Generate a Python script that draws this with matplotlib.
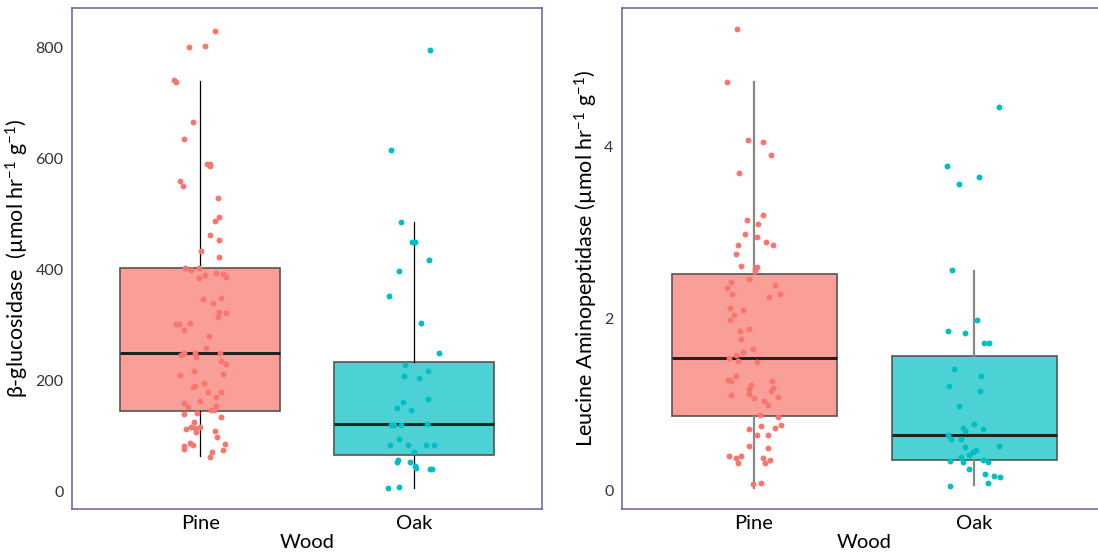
import matplotlib.pyplot as plt

plt.rcParams['font.family'] = ['Lato', 'DejaVu Sans']
plt.rcParams['mathtext.fontset'] = 'custom'
plt.rcParams['mathtext.rm'] = 'Lato'
plt.rcParams['mathtext.it'] = 'Lato'

woods = ['Pine', 'Oak']
pine_col = '#F8766D'
oak_col = '#00BFC4'

# beta-glucosidase, umol hr-1 g-1
bg_pine = [831.4, 802.4, 804.2, 742.1, 737.9, 666.1, 635.3, 590.0, 591.3, 586.4,
           559.3, 551.4, 529.7, 495.3, 487.5, 462.7, 453.1, 434.4, 424.1, 404.2,
           399.4, 403.0, 386.1, 390.3, 395.2, 392.2, 387.3, 348.1, 339.7, 349.9,
           324.6, 322.8, 315.5, 302.3, 302.3, 303.5, 292.0, 281.1, 259.4, 247.4,
           249.8, 249.8, 243.7, 249.8, 236.5, 231.1, 210.0, 217.2, 213.0, 196.1,
           188.2, 190.0, 179.2, 179.2, 171.3, 159.9, 162.9, 152.6, 146.6, 146.6,
           153.8, 140.6, 142.4, 134.5, 126.7, 113.4, 117.6, 114.6, 117.0, 108.6,
           109.8, 98.3, 88.7, 84.5, 82.7, 76.6, 85.7, 75.4, 71.2, 63.3]
bg_pine_jit = [0.071, -0.052, 0.023, -0.123, -0.113, -0.032, -0.076, 0.031, 0.045, 0.048,
               -0.096, -0.080, 0.085, 0.090, 0.071, 0.048, 0.090, 0.005, 0.090, -0.071,
               -0.045, -0.006, -0.006, 0.023, 0.076, 0.108, 0.120, 0.014, 0.062, 0.099,
               0.090, 0.123, 0.085, -0.113, -0.099, -0.048, -0.076, 0.042, 0.028, -0.091,
               -0.076, -0.022, -0.019, 0.094, 0.099, 0.123, -0.094, -0.028, 0.108, 0.019,
               -0.035, -0.022, 0.037, 0.099, 0.076, -0.076, 0.0, -0.057, 0.049, 0.065,
               0.076, -0.076, -0.014, 0.099, -0.028, -0.065, -0.042, -0.022, -0.002, -0.019,
               0.069, 0.080, -0.046, -0.032, -0.076, -0.076, 0.117, 0.108, 0.056, 0.046]
bg_oak = [796.4, 616.6, 485.7, 449.5, 449.5, 416.9, 397.6, 353.5, 303.5, 249.8,
          229.3, 209.4, 217.2, 204.5, 162.3, 167.7, 150.2, 147.2, 120.7, 120.7,
          120.7, 123.1, 94.7, 83.9, 84.5, 84.5, 84.5, 72.4, 53.7, 56.7,
          53.7, 47.1, 42.2, 41.0, 41.0, 6.0, 8.4]
bg_oak_jit = [0.076, -0.105, -0.062, -0.009, 0.006, 0.071, -0.071, -0.114, 0.032, 0.117,
              -0.042, -0.048, 0.066, 0.023, -0.052, 0.066, -0.080, -0.014, -0.105, -0.093,
              -0.062, 0.062, -0.071, -0.113, -0.025, 0.056, 0.093, 0.0, -0.080, -0.074,
              -0.019, 0.006, 0.009, 0.076, 0.086, -0.123, -0.071]
# whisker low, Q1, median, Q3, whisker high
bg_box = {'Pine': [65, 146, 251, 403, 741], 'Oak': [7, 66, 122, 234, 486]}

# leucine aminopeptidase, umol hr-1 g-1
lap_pine = [5.367, 4.749, 4.077, 4.053, 3.905, 3.696, 3.202, 3.151, 3.101, 2.980,
            2.953, 2.895, 2.856, 2.856, 2.755, 2.607, 2.584, 2.600, 2.553, 2.460,
            2.425, 2.355, 2.386, 2.285, 2.285, 2.250, 2.125, 2.102, 2.044, 1.989,
            1.853, 1.877, 1.768, 1.643, 1.608, 1.573, 1.542, 1.507, 1.500, 1.336,
            1.290, 1.274, 1.274, 1.224, 1.192, 1.177, 1.161, 1.123, 1.115, 1.076,
            1.084, 1.045, 0.994, 0.878, 0.854, 0.765, 0.749, 0.714, 0.726, 0.641,
            0.641, 0.520, 0.493, 0.396, 0.384, 0.396, 0.318, 0.384, 0.353, 0.318,
            0.077, 0.085]
lap_pine_jit = [-0.076, -0.125, -0.029, 0.039, 0.076, -0.068, 0.043, -0.032, 0.019, -0.039,
                0.012, 0.056, 0.086, -0.071, -0.080, -0.057, 0.003, 0.012, 0.006, -0.025,
                -0.105, -0.125, 0.096, -0.100, 0.119, 0.066, -0.110, -0.048, -0.091, -0.110,
                -0.062, -0.025, -0.057, -0.006, -0.052, -0.080, -0.114, -0.071, 0.012, -0.080,
                -0.119, -0.105, 0.082, -0.014, 0.086, -0.022, 0.079, -0.025, -0.105, 0.0,
                0.110, 0.046, 0.063, 0.028, 0.108, 0.123, 0.032, -0.025, 0.094, 0.012,
                0.062, -0.025, 0.062, -0.114, -0.080, -0.057, -0.071, 0.039, 0.071, 0.048,
                -0.003, 0.032]
lap_oak = [4.461, 3.781, 3.645, 3.571, 2.561, 1.989, 1.853, 1.830, 1.721, 1.721,
           1.410, 1.336, 1.212, 1.154, 0.979, 0.777, 0.722, 0.695, 0.718, 0.648,
           0.594, 0.594, 0.508, 0.520, 0.473, 0.446, 0.415, 0.388, 0.341, 0.330,
           0.357, 0.330, 0.248, 0.197, 0.174, 0.159, 0.089, 0.050]
lap_oak_jit = [0.114, -0.125, 0.023, -0.068, -0.100, 0.012, -0.119, -0.039, 0.046, 0.066,
               -0.091, 0.034, -0.114, 0.028, -0.068, 0.0, -0.052, -0.043, 0.039, -0.119,
               -0.105, -0.057, -0.039, 0.113, 0.009, -0.006, -0.022, -0.057, -0.111, -0.048,
               0.043, 0.062, -0.025, 0.048, 0.091, 0.119, 0.062, -0.110]
lap_box = {'Pine': [0.034, 0.866, 1.542, 2.522, 4.749], 'Oak': [0.065, 0.357, 0.647, 1.565, 2.557]}


def panel(ax, box, pts, ylab, ylim, yticks, wcol, wlw):
    stats = []
    for w in woods:
        lo, q1, med, q3, hi = box[w]
        stats.append(dict(whislo=lo, q1=q1, med=med, q3=q3, whishi=hi, fliers=[]))
    bp = ax.bxp(stats, positions=[1, 2], widths=0.75, patch_artist=True,
                showcaps=False, showfliers=False, zorder=1,
                boxprops=dict(edgecolor='#555555', linewidth=1.2),
                medianprops=dict(color='#222222', linewidth=2.2),
                whiskerprops=dict(color=wcol, linewidth=wlw))
    for patch, c in zip(bp['boxes'], [pine_col, oak_col]):
        fc = list(plt.matplotlib.colors.to_rgba(c))
        fc[3] = 0.7
        patch.set_facecolor(fc)
    for i, (vals, jit, c) in enumerate(pts):
        ax.scatter([i + 1 + j for j in jit], vals, s=18, color=c, linewidths=0, zorder=3)
    ax.set_xlim(0.4, 2.6)
    ax.set_ylim(*ylim)
    ax.set_yticks(yticks)
    ax.set_xticks([1, 2])
    ax.set_xticklabels(woods, fontsize=14.5)
    ax.tick_params(axis='both', length=0, pad=6, colors='#333333')
    ax.tick_params(axis='y', labelsize=11.5)
    ax.tick_params(axis='x', colors='black', pad=4)
    for s in ax.spines.values():
        s.set_color('#635FA0')
        s.set_linewidth(1.1)
    ax.set_xlabel('Wood', fontsize=14.5, labelpad=2)
    ax.set_ylabel(ylab, fontsize=15.5, labelpad=3)


fig = plt.figure(figsize=(10.98, 5.54), dpi=100)
ax1 = fig.add_axes([72 / 1098, 45 / 554, 470 / 1098, 501 / 554])
ax2 = fig.add_axes([622 / 1098, 45 / 554, 484 / 1098, 501 / 554])

panel(ax1, bg_box, [(bg_pine, bg_pine_jit, pine_col), (bg_oak, bg_oak_jit, oak_col)],
      r'β-glucosidase  (µmol hr$^{-1}$ g$^{-1}$)', (-31, 872), [0, 200, 400, 600, 800],
      'black', 0.9)
panel(ax2, lap_box, [(lap_pine, lap_pine_jit, pine_col), (lap_oak, lap_oak_jit, oak_col)],
      r'Leucine Aminopeptidase (µmol hr$^{-1}$ g$^{-1}$)', (-0.215, 5.615), [0, 2, 4],
      '#888888', 1.6)
ax2.set_xlim(0.4, 0.4 + 484 / 220)

fig.savefig('out.png', dpi=100)
